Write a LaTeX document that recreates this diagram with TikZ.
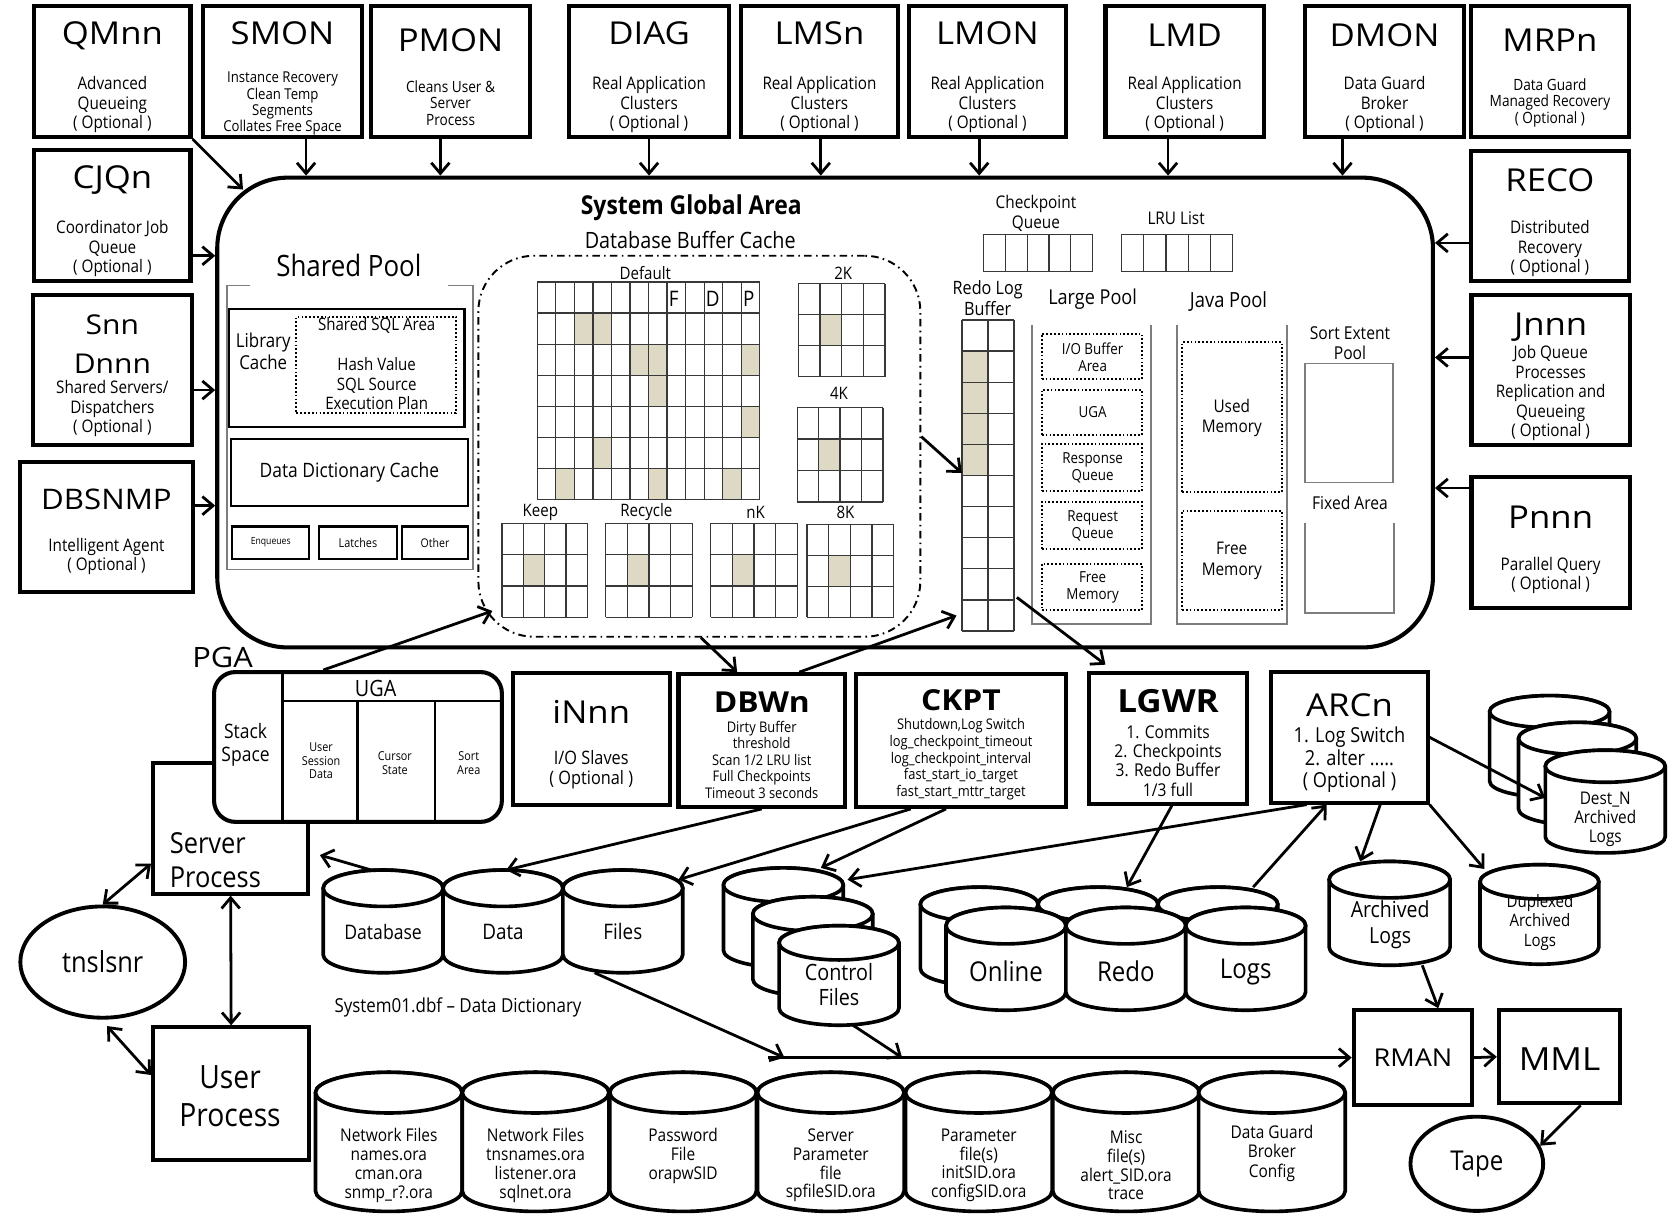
\documentclass[tikz,border=0pt]{standalone}
\usepackage{fontspec}
\setmainfont{Open Sans}[FakeStretch=0.88]
\newfontfamily\ttl{Open Sans}[FakeStretch=1.1]
\usetikzlibrary{arrows.meta,shapes.geometric,fit,calc}

\definecolor{cellfill}{RGB}{221,217,196}
\definecolor{framegray}{RGB}{125,125,125}

\newcommand\fsz[2]{\fontsize{#1}{#2}\selectfont}

\tikzset{
  pbox/.style={draw, line width=3.8pt, fill=white, inner sep=0pt},
  thinbox/.style={draw, line width=2pt, inner sep=0pt},
  dotbox/.style={draw, line width=1.8pt, dash pattern=on 1.6pt off 2pt, inner sep=0pt},
  grayframe/.style={draw=framegray, line width=1.4pt},
  gridline/.style={draw=black!78, line width=1.2pt},
  txt/.style={inner sep=0pt, align=center},
  ttlt/.style={txt, font=\ttl\fsz{29.5}{32}},
  subt/.style={txt, font=\fsz{16.2}{18.3}},
  bft/.style={txt, font=\ttl\bfseries\fsz{27}{30}},
  barb/.tip={Straight Barb[length=10pt, width=17pt, line width=2.6pt]},
  arr/.style={line width=2.6pt, -barb},
  darr/.style={line width=2.6pt, barb-barb},
  drum/.style={line width=3.4pt, fill=white},
}

% process box from its two corners
\newcommand\pbx[5]{\node[pbox, fit={(#2,#3) (#4,#5)}] (#1) {};}

% cylinder: name, centre x, x radius, top ellipse y, bottom ellipse y, y radius
\newcommand\drum[6]{%
  \filldraw[drum] (#2,#4) ++(-#3,0) -- ++(0,{#5-#4})
    arc[start angle=180, end angle=360, x radius=#3pt, y radius=#6pt]
    -- ++(0,{#4-#5})
    arc[start angle=0, end angle=180, x radius=#3pt, y radius=#6pt] -- cycle;
  \draw[drum] (#2,#4) ellipse[x radius=#3pt, y radius=#6pt];
  \node[inner sep=0pt, outer sep=0pt, minimum width={2*#3}, minimum height={#5-#4+2*#6}] (#1) at (#2,{(#4+#5)/2}) {};
}

% block grid: x1, y1, x2, y2, columns, rows
\newcommand\cellgrid[6]{%
  \pgfmathsetmacro\gcw{(#3-#1)/#5}%
  \pgfmathsetmacro\grh{(#4-#2)/#6}%
  \foreach \gi in {0,...,#5} {\draw[gridline] ({#1+\gi*\gcw},#2) -- ({#1+\gi*\gcw},#4);}
  \foreach \gj in {0,...,#6} {\draw[gridline] (#1,{#2+\gj*\grh}) -- (#3,{#2+\gj*\grh});}
}
% used block: x1, y1, cell width, row height, column, row
\newcommand\cellmark[6]{\fill[cellfill] ({#1+#5*#3},{#2+#6*#4}) rectangle ++(#3,#4);}

\begin{document}
\begin{tikzpicture}[x=1pt,y=-1pt]
\fill[white] (0,0) rectangle (1568,1134);
\useasboundingbox (0,0) rectangle (1568,1134);

%% ---------------- System Global Area ----------------
\node[draw, line width=3.8pt, fill=white, rounded corners=66pt, inner sep=0pt, fit={(203,166) (1339,605)}] (sga) {};
\node[txt, font=\bfseries\fsz{24.3}{26}] (sga-t) at (646,194) {System Global Area};
\node[txt, font=\fsz{21}{23}] (dbc-t) at (645,224) {Database Buffer Cache};

% shared pool
\node[txt, font=\fsz{27.5}{30}] (sp-t) at (326,248) {Shared Pool};
\draw[grayframe] (234,267) -- (212,267) -- (212,532) -- (442,532) -- (442,267) -- (418.5,267);
\node[thinbox, fit={(214,289) (434,399)}] (libc) {};
\node[dotbox, fit={(277,296) (426,386)}] (sqla) {};
\node[txt, font=\fsz{17.9}{20.5}] (libc-t) at (246,328) {Library\\Cache};
\node[txt, font=\fsz{16}{18}] (sqla-t) at (352,304) {Shared SQL Area};
\node[txt, font=\fsz{16}{18.5}] (sqla-s) at (352,358.5) {Hash Value\\SQL Source\\Execution Plan};
\node[thinbox, fit={(216,410) (437,473)}] (ddc) {};
\node[txt, font=\fsz{18.5}{20}] (ddc-t) at (326.5,441.5) {Data Dictionary Cache};
\node[thinbox, fit={(217,492) (289,522)}] (enq) {};
\node[thinbox, fit={(298,492) (371,522)}] (lat) {};
\node[thinbox, fit={(376,492) (437,522)}] (oth) {};
\node[txt, font=\fsz{9.2}{10}] (enq-t) at (253,507) {Enqueues};
\node[txt, font=\fsz{11.5}{12}] (lat-t) at (334.5,507) {Latches};
\node[txt, font=\fsz{11.2}{12}] (oth-t) at (406.5,507) {Other};

% database buffer cache
\node[draw, line width=1.8pt, dash pattern=on 7pt off 4pt on 1.5pt off 4pt, rounded corners=52pt, inner sep=0pt, fit={(447,239) (860,595)}] (bcache) {};
\foreach \ci/\ri in {2/1,3/1,5/2,6/2,11/2,6/3,11/4,3/5,1/6,6/6,10/6}
  {\cellmark{502}{263.5}{17.3333}{29.0714}{\ci}{\ri}}
\cellgrid{502}{263.5}{710}{467}{12}{7}
\node[txt, font=\fsz{16}{18}] (def-t) at (603,255) {Default};
\node[txt, font=\fsz{20}{22}] (f-t) at (629.5,279.5) {F};
\node[txt, font=\fsz{20}{22}] (d-t) at (666,279.5) {D};
\node[txt, font=\fsz{20}{22}] (p-t) at (699.6,279.5) {P};

\cellmark{746}{265}{20.25}{29}{1}{1}
\cellgrid{746}{265}{827}{352}{4}{3}
\node[txt, font=\fsz{16}{18}] (k2-t) at (788,255) {2K};
\cellmark{745}{381}{20}{29.333}{1}{1}
\cellgrid{745}{381}{825}{469}{4}{3}
\node[txt, font=\fsz{16}{18}] (k4-t) at (784,368) {4K};
\cellmark{469}{489}{20}{29.333}{1}{1}
\cellgrid{469}{489}{549}{577}{4}{3}
\node[txt, font=\fsz{16}{18}] (keep-t) at (505,478.5) {Keep};
\cellmark{566}{489}{20.25}{29.333}{1}{1}
\cellgrid{566}{489}{647}{577}{4}{3}
\node[txt, font=\fsz{16}{18}] (rec-t) at (604,478.5) {Recycle};
\cellmark{664}{489}{20.25}{29.333}{1}{1}
\cellgrid{664}{489}{745}{577}{4}{3}
\node[txt, font=\fsz{16}{18}] (nk-t) at (706,478.5) {nK};
\cellmark{754}{490}{20.25}{29}{1}{1}
\cellgrid{754}{490}{835}{577}{4}{3}
\node[txt, font=\fsz{16}{18}] (k8-t) at (790,478.5) {8K};

% checkpoint queue and LRU list
\node[txt, font=\fsz{16.3}{18.5}] (ckq-t) at (968,199) {Checkpoint\\Queue};
\cellgrid{919}{219}{1021}{254}{5}{1}
\node[txt, font=\fsz{16.3}{18.5}] (lru-t) at (1099,204) {LRU List};
\cellgrid{1048}{219}{1152}{254}{5}{1}

% redo log buffer
\node[txt, font=\fsz{17.2}{19}] (rlb-t) at (923,278.5) {Redo Log\\Buffer};
\node[inner sep=0pt, fit={(899,299) (947.5,589.6)}] (rlb) {};
\foreach \ri in {1,2,3,4} {\cellmark{899}{299}{24.25}{29.06}{0}{\ri}}
\cellgrid{899}{299}{947.5}{589.6}{2}{10}

% large pool
\node[txt, font=\fsz{19.2}{21}] (lp-t) at (1021,280) {Large Pool};
\draw[grayframe] (964.5,304) -- (964.5,583) -- (1075.6,583) -- (1075.6,304);
\node[dotbox, fit={(973.5,312) (1067,354)}] (lp-io) {};
\node[dotbox, fit={(973.5,364) (1067,406.5)}] (lp-uga) {};
\node[dotbox, fit={(973.5,415) (1067,459)}] (lp-rsp) {};
\node[dotbox, fit={(973.5,469) (1067,513)}] (lp-req) {};
\node[dotbox, fit={(973.5,527) (1067,570)}] (lp-free) {};
\node[txt, font=\fsz{14.2}{16}] (lp-io-t) at (1021,334) {I/O Buffer\\Area};
\node[txt, font=\fsz{14.2}{16}] (lp-uga-t) at (1021,385) {UGA};
\node[txt, font=\fsz{14.2}{16}] (lp-rsp-t) at (1021,437.5) {Response\\Queue};
\node[txt, font=\fsz{14.2}{16}] (lp-req-t) at (1021,491.5) {Request\\Queue};
\node[txt, font=\fsz{14.2}{16}] (lp-free-t) at (1021,549) {Free\\Memory};

% java pool
\node[txt, font=\fsz{19.5}{21}] (jp-t) at (1148,282) {Java Pool};
\draw[grayframe] (1100,304) -- (1100,583) -- (1202.5,583) -- (1202.5,304);
\node[dotbox, fit={(1104.5,320) (1198,459.5)}] (jp-used) {};
\node[dotbox, fit={(1104.5,477.5) (1198,570)}] (jp-free) {};
\node[txt, font=\fsz{16.3}{19}] (jp-used-t) at (1151,390.5) {Used\\Memory};
\node[txt, font=\fsz{16.3}{19}] (jp-free-t) at (1151,524) {Free\\Memory};

% sort extent pool and fixed area
\node[txt, font=\fsz{16.6}{18.5}] (sep-t) at (1261.5,321) {Sort Extent\\Pool};
\draw[grayframe] (1219.5,339.5) rectangle (1301.6,451);
\node[txt, font=\fsz{16.6}{18.5}] (fa-t) at (1261.5,470) {Fixed Area};
\draw[grayframe] (1219.5,488.7) -- (1219.5,573) -- (1302.5,573) -- (1302.5,488.7);

%% ---------------- background processes, top row ----------------
\pbx{qmnn}{32}{6}{178}{128}
\node[ttlt] (qmnn-t) at (105,33) {QMnn};
\node[subt] (qmnn-s) at (105,97.7) {Advanced\\Queueing\\( Optional )};
\pbx{smon}{190}{6}{338}{128}
\node[ttlt] (smon-t) at (264,31) {SMON};
\node[txt, font=\fsz{14}{15.4}] (smon-s) at (264,96.9) {Instance Recovery\\Clean Temp\\Segments\\Collates Free Space};
\pbx{pmon}{347}{6}{495}{128}
\node[ttlt] (pmon-t) at (421,38) {PMON};
\node[txt, font=\fsz{14.5}{15.3}] (pmon-s) at (421,96.3) {Cleans User \&\\Server\\Process};
\pbx{diag}{532}{6}{681}{128}
\node[ttlt] (diag-t) at (606.5,31.5) {DIAG};
\node[subt] (diag-s) at (606.5,97.8) {Real Application\\Clusters\\( Optional )};
\pbx{lmsn}{692.5}{6}{839}{128}
\node[ttlt] (lmsn-t) at (765.75,31.5) {LMSn};
\node[subt] (lmsn-s) at (765.75,97.8) {Real Application\\Clusters\\( Optional )};
\pbx{lmon}{849}{6}{996.5}{128}
\node[ttlt] (lmon-t) at (922.75,31.5) {LMON};
\node[subt] (lmon-s) at (922.75,97.8) {Real Application\\Clusters\\( Optional )};
\pbx{lmd}{1033}{6}{1181}{128}
\node[ttlt] (lmd-t) at (1107,32.5) {LMD};
\node[subt] (lmd-s) at (1107,97.8) {Real Application\\Clusters\\( Optional )};
\pbx{dmon}{1219.5}{6}{1368}{128}
\node[ttlt] (dmon-t) at (1293.75,32.5) {DMON};
\node[subt] (dmon-s) at (1293.75,97.8) {Data Guard\\Broker\\( Optional )};
\pbx{mrpn}{1374.6}{6}{1522}{128}
\node[ttlt] (mrpn-t) at (1448.3,38) {MRPn};
\node[txt, font=\fsz{14.5}{15.5}] (mrpn-s) at (1448.3,96.2) {Data Guard\\Managed Recovery\\( Optional )};

% left column
\pbx{cjqn}{32}{140}{178}{263}
\node[ttlt] (cjqn-t) at (105,168) {CJQn};
\node[subt] (cjqn-s) at (105,232.5) {Coordinator Job\\Queue\\( Optional )};
\pbx{snn}{31}{276}{179}{416}
\node[txt, font=\ttl\fsz{25.5}{35.8}] (snn-t) at (105,321.6) {Snn\\Dnnn};
\node[subt] (snn-s) at (105,382) {Shared Servers/\\Dispatchers\\( Optional )};
\pbx{dbsnmp}{19}{432}{180}{553}
\node[txt, font=\ttl\fsz{26.5}{30}] (dbsnmp-t) at (99.5,467) {DBSNMP};
\node[subt] (dbsnmp-s) at (99.5,520) {Intelligent Agent\\( Optional )};

% right column
\pbx{reco}{1374.6}{141}{1522}{263}
\node[ttlt] (reco-t) at (1448.3,168) {RECO};
\node[subt] (reco-s) at (1448.3,232.5) {Distributed\\Recovery\\( Optional )};
\pbx{jnnn}{1375}{276}{1523}{416}
\node[ttlt] (jnnn-t) at (1449,305.5) {Jnnn};
\node[txt, font=\fsz{16.2}{18.1}] (jnnn-s) at (1449,367.4) {Job Queue\\Processes\\Replication and\\Queueing\\( Optional )};
\pbx{pnnn}{1375}{446}{1523}{568}
\node[ttlt] (pnnn-t) at (1449,483) {Pnnn};
\node[subt] (pnnn-s) at (1449,537.8) {Parallel Query\\( Optional )};

% arrows into the SGA
\foreach \p/\s in {smon/22, pmon/-9.5, diag/0, lmsn/1.25, lmon/-7.75, lmd/-15.5, dmon/-39.25}
  {\coordinate (\p-o) at ([xshift=\s pt]\p.south);
   \draw[arr] (\p-o) -- (\p-o |- sga.north);}
\foreach \p/\s in {cjqn/-37.5, snn/-18.5, dbsnmp/20}
  {\coordinate (\p-o) at ([yshift=\s pt]\p.east);
   \draw[arr] (\p-o) -- (\p-o -| sga.west);}
\foreach \p/\s in {reco/-25, jnnn/12, pnnn/51}
  {\coordinate (\p-o) at ([yshift=\s pt]\p.west);
   \draw[arr] (\p-o) -- (\p-o -| sga.east);}
\draw[arr] (qmnn.south east) -- ($(sga.north west)+(26,13)$);

%% ---------------- PGA, server and user processes ----------------
\pbx{srv}{143}{713}{288}{835}
\node[pbox, rounded corners=20pt, fit={(200,628) (469,768)}] (pga) {};
\draw[line width=2pt] (264,628) -- (264,768);
\draw[line width=2pt] (264,655) -- (469,655);
\draw[line width=2pt] (334,655) -- (334,768);
\draw[line width=2pt] (406.5,655) -- (406.5,768);
\node[txt, font=\ttl\fsz{26.2}{28}] (pga-t) at (208,614) {PGA};
\node[txt, font=\fsz{21}{23}] (uga-t) at (351,643) {UGA};
\node[txt, font=\fsz{18.6}{21.5}] (stk-t) at (229.5,696) {Stack\\Space};
\node[txt, font=\fsz{11.5}{12.8}] (usd-t) at (300,711) {User\\Session\\Data};
\node[txt, font=\fsz{11.5}{13}] (cur-t) at (369,713) {Cursor\\State};
\node[txt, font=\fsz{11.5}{13}] (srt-t) at (438,713) {Sort\\Area};
\node[txt, align=left, anchor=west, font=\fsz{27}{32}] (srv-t) at (158.5,804) {Server\\Process};

\node[draw, ellipse, line width=3.6pt, minimum width=154pt, minimum height=104pt, inner sep=0pt, font=\fsz{27}{30}] (tns) at (96,899) {tnslsnr};
\pbx{usr}{143}{960}{289}{1084}
\node[txt, font=\fsz{30}{35.5}] (usr-t) at (215,1024.5) {User\\Process};

\draw[darr] (tns.north) -- ([yshift=-33pt]srv.west);
\draw[darr] ([shift={(4pt,-6pt)}]tns.south) -- ([yshift=17.5pt]usr.west);
\draw[darr] (srv.south) -- (usr.north);

%% ---------------- background processes, lower row ----------------
\pbx{innn}{479}{629}{626}{752}
\node[txt, font=\ttl\fsz{29.5}{32}] (innn-t) at (552.5,665) {iNnn};
\node[txt, font=\fsz{17.3}{18.5}] (innn-s) at (552.5,719) {I/O Slaves\\( Optional )};
\pbx{dbwn}{634}{630}{789.6}{754}
\node[bft] (dbwn-t) at (711.8,656) {DBWn};
\node[txt, font=\fsz{13.7}{15.5}] (dbwn-s) at (711.8,710) {Dirty Buffer\\threshold\\Scan 1/2 LRU list\\Full Checkpoints\\Timeout 3 seconds};
\pbx{ckpt}{800}{630}{996}{754}
\node[bft] (ckpt-t) at (898,654) {CKPT};
\node[txt, font=\fsz{13.7}{15.75}] (ckpt-s) at (898,709.5) {Shutdown,Log Switch\\log\_checkpoint\_timeout\\log\_checkpoint\_interval\\fast\_start\_io\_target\\fast\_start\_mttr\_target};
\pbx{lgwr}{1018}{629}{1165}{751}
\node[txt, font=\ttl\bfseries\fsz{29.8}{32}] (lgwr-t) at (1091.5,655) {LGWR};
\node[txt, font=\fsz{16.5}{18}] (lgwr-s) at (1091.5,711) {1. Commits\\2. Checkpoints\\3. Redo Buffer\\1/3 full};
\pbx{arcn}{1187.5}{628}{1334}{750}
\node[ttlt] (arcn-t) at (1261,659) {ARCn};
\node[txt, font=\fsz{19.3}{21}] (arcn-s) at (1261,710) {1. Log Switch\\2. alter .....\\( Optional )};

%% ---------------- files ----------------
\drum{db}{358}{56}{830}{892}{17}
\drum{data}{470}{56}{830}{892}{17}
\drum{files}{582}{56}{830}{892}{17}
\node[txt, font=\fsz{18.7}{20}] (db-t) at (358,871) {Database};
\node[txt, font=\fsz{20}{22}] (data-t) at (470,871) {Data};
\node[txt, font=\fsz{20}{22}] (files-t) at (582,870) {Files};
\node[txt, font=\fsz{18}{20}] (sysdbf-t) at (428,941) {System01.dbf -- Data Dictionary};

\drum{ctlA}{732}{56}{827}{888}{16}
\drum{ctlB}{759.5}{56}{854}{915}{16}
\drum{ctlC}{784}{56}{881}{942}{16}
\node[txt, font=\fsz{21}{24}] (ctl-t) at (784,920) {Control\\Files};

\drum{onlB}{915}{55}{845}{905}{16}
\drum{redoB}{1026}{56}{845}{905}{16}
\drum{logsB}{1138}{56}{845}{905}{16}
\drum{onlF}{940}{56}{865}{927}{17}
\drum{redoF}{1052}{56}{865}{927}{17}
\drum{logsF}{1164}{56}{865}{927}{17}
\node[txt, font=\fsz{25.5}{28}] (onl-t) at (940,908) {Online};
\node[txt, font=\fsz{25.5}{28}] (redo-t) at (1052,908) {Redo};
\node[txt, font=\fsz{25.5}{28}] (logs-t) at (1164,908) {Logs};

\drum{arch}{1298.5}{56.5}{822}{885}{17}
\node[txt, font=\fsz{20.7}{24}] (arch-t) at (1299,864) {Archived\\Logs};
\drum{dup}{1438.5}{55.5}{824}{885}{16}
\node[txt, font=\fsz{16}{18.5}] (dup-t) at (1439,862) {Duplexed\\Archived\\Logs};

\drum{destA}{1448}{56}{665}{730}{15}
\drum{destB}{1474}{55}{690}{756}{15}
\drum{destC}{1500}{56}{716}{782}{15}
\node[txt, font=\fsz{16.3}{18}] (dest-t) at (1500,765.5) {Dest\_N\\Archived\\Logs};

% configuration files
\drum{net1}{363.3}{68.5}{1021}{1113}{19}
\drum{net2}{500.5}{68.5}{1021}{1113}{19}
\drum{pwd}{638.3}{68.5}{1021}{1113}{19}
\drum{spf}{776.3}{68.5}{1021}{1113}{19}
\drum{pfile}{914.6}{68.5}{1021}{1113}{19}
\drum{misc}{1052.3}{68.5}{1021}{1113}{19}
\drum{dgb}{1188.5}{68.5}{1021}{1113}{19}
\node[txt, font=\fsz{16.4}{17.5}] (net1-t) at (363.3,1089) {Network Files\\names.ora\\cman.ora\\snmp\_r?.ora};
\node[txt, font=\fsz{16.4}{17.5}] (net2-t) at (500.5,1089) {Network Files\\tnsnames.ora\\listener.ora\\sqlnet.ora};
\node[txt, font=\fsz{16.4}{17.5}] (pwd-t) at (638.3,1080) {Password\\File\\orapwSID};
\node[txt, font=\fsz{16.4}{17.5}] (spf-t) at (776.3,1089) {Server\\Parameter\\file\\spfileSID.ora};
\node[txt, font=\fsz{16.4}{17.5}] (pfile-t) at (914.6,1089) {Parameter\\file(s)\\initSID.ora\\configSID.ora};
\node[txt, font=\fsz{16.4}{17.5}] (misc-t) at (1052.3,1089) {Misc\\file(s)\\alert\_SID.ora\\trace};
\node[txt, font=\fsz{16.4}{18}] (dgb-t) at (1188.5,1077.7) {Data Guard\\Broker\\Config};

% backup path
\pbx{rman}{1265}{944}{1375.6}{1032.6}
\node[txt, font=\ttl\fsz{23}{25}] (rman-t) at (1320.3,988.3) {RMAN};
\pbx{mml}{1400.6}{944}{1514}{1031}
\node[txt, font=\ttl\fsz{29.8}{32}] (mml-t) at (1457.3,990) {MML};
\node[draw, ellipse, line width=3.6pt, minimum width=124pt, minimum height=88pt, inner sep=0pt, font=\fsz{25.5}{28}] (tape) at (1380,1087.5) {Tape};

\coordinate (busL) at (718,988.3);
\coordinate (busA) at (733,988.3);
\coordinate (busB) at (843,988.3);

%% ---------------- data flow ----------------
\draw[arr] ([xshift=1.5pt]bcache.south) -- ([xshift=-23pt]dbwn.north);
\draw[arr] ([xshift=35pt]dbwn.north) -- ([shift={(-5pt,14.6pt)}]rlb.south west);
\draw[arr] ([shift={(2.5pt,31.6pt)}]rlb.south east) -- ([shift={(-58.5pt,6pt)}]lgwr.north);
\draw[arr] ([yshift=9pt]bcache.east) -- ([yshift=2.3pt]rlb.west);
\draw[arr] ([xshift=-32.5pt]pga.north) -- ($(bcache.south west)+(14,-25)$);
\draw[arr] ([xshift=-11pt]db.north) -- ($(srv.east)+(9,25)$);
\draw[arr] (dbwn.south) -- ([xshift=3pt]data.north);
\draw[arr] ([xshift=-47pt]ckpt.south) -- ($(files.north east)+(-4,9)$);
\draw[arr] ([xshift=-14pt]ckpt.south) -- ([xshift=35pt]ctlA.north);
\draw[arr] ([xshift=3.5pt]lgwr.south) -- ([xshift=27pt]redoB.north);
\draw[arr] ([xshift=-39.8pt]arcn.south) -- ($(ctlA.north east)+(4,11)$);
\draw[arr] ([xshift=33pt]logsB.north) -- ([xshift=-21pt]arcn.south);
\draw[arr] ([xshift=29pt]arcn.south) -- ([xshift=-27.5pt]arch.north);
\draw[arr] (arcn.south east) -- ([shift={(4pt,-4pt)}]dup.north west);
\draw[arr] (arcn.east) -- ([yshift=3.4pt]destC.west);
\draw[arr] ([xshift=-26.4pt]files.south) -- (busA);
\draw[arr] ([xshift=13pt]ctlC.south) -- (busB);
\draw[arr] (busL) -- (rman.west);
\draw[arr] (rman.east) -- (mml.west);
\draw[arr] ([xshift=30.5pt]arch.south) -- ([xshift=23.7pt]rman.north);
\draw[arr] ([xshift=19.7pt]mml.south) -- (tape.16);
\end{tikzpicture}
\end{document}
